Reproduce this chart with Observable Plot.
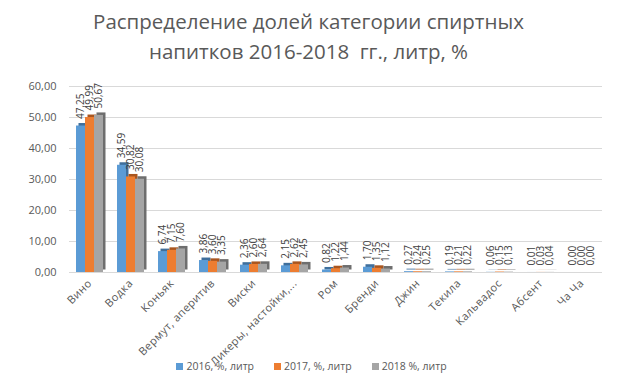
<!DOCTYPE html>
<html><head><meta charset="utf-8">
<script src="https://cdn.jsdelivr.net/npm/d3@7"></script>
<script src="https://cdn.jsdelivr.net/npm/@observablehq/plot@0.6"></script>
<style>
body{margin:0;background:#fff;font-family:"Open Sans",sans-serif;width:617px;height:382px;overflow:hidden;position:relative;}
#title{height:70px;text-align:center;font-size:20.5px;color:#595959;line-height:30px;padding-top:6px;box-sizing:border-box;white-space:nowrap;}
#chart svg{display:block;}
#legend{position:absolute;left:0;top:356px;width:617px;height:20px;display:flex;justify-content:center;align-items:center;gap:20px;font-size:10.5px;color:#595959;padding-left:6px;box-sizing:border-box;}
#legend span.item{display:flex;align-items:center;gap:3px;}
#legend span.sw{width:7px;height:7px;display:inline-block;}
</style></head><body>
<div id="title">Распределение долей категории спиртных<br>напитков 2016-2018&nbsp; гг., литр, %</div>
<div id="chart"></div>
<div id="legend"></div>
<script>
const categories = ["Вино","Водка","Коньяк","Вермут, аперитив","Виски","Ликеры, настойки,...","Ром","Бренди","Джин","Текила","Кальвадос","Абсент","Ча Ча"];
const series = ["2016, %, литр","2017, %, литр","2018 %, литр"];
const v2016 = [47.25,34.59,6.74,3.86,2.36,2.15,0.82,1.70,0.27,0.19,0.06,0.01,0.00];
const v2017 = [49.99,30.82,7.15,3.60,2.60,2.62,1.22,1.35,0.24,0.21,0.15,0.03,0.00];
const v2018 = [50.67,30.08,7.60,3.35,2.64,2.45,1.44,1.12,0.25,0.22,0.13,0.04,0.00];
const yTicks = [0,10,20,30,40,50,60];
const colors = ["#5B9BD5","#ED7D31","#A5A5A5"];
const sideColors = ["#3F6F9C","#A9561F","#6E6E6E"];

const values = [v2016, v2017, v2018];
const rows = [];
categories.forEach((c, i) => series.forEach((s, j) => rows.push({cat: c, series: s, value: values[j][i]})));
const fmt = v => d3.format(".2f")(v).replace(".", ",");

const marks = [];
series.forEach((s, j) => {
  marks.push(Plot.barY(rows, {filter: d => d.series === s, x: "series", y: "value", fill: sideColors[j], dx: 2.5, dy: -2.5}));
});
series.forEach((s, j) => {
  marks.push(Plot.barY(rows, {filter: d => d.series === s, x: "series", y: "value", fill: colors[j]}));
});
marks.push(Plot.text(rows, {x: "series", y: "value", text: d => fmt(d.value), rotate: -90, textAnchor: "start", dy: -7, fontSize: 10, fill: "#404040"}));

const chart = Plot.plot({
  width: 617, height: 286,
  marginLeft: 66, marginRight: 13, marginTop: 16, marginBottom: 84,
  style: {fontFamily: "Open Sans", fontSize: "11px", color: "#595959", background: "transparent", overflow: "visible"},
  facet: {data: rows, x: "cat"},
  fx: {domain: categories, padding: 0, label: null, axis: "bottom", tickRotate: -45, tickSize: 0, tickPadding: 9},
  x: {domain: series, paddingInner: 0, paddingOuter: 0.72, axis: null},
  y: {domain: [0, 60], ticks: yTicks, tickFormat: fmt, grid: true, label: null, tickSize: 0, tickPadding: 13},
  marks
});
document.getElementById("chart").appendChild(chart);
d3.select(chart).selectAll("[aria-label='y-grid'] line, [aria-label='y-grid'] path").attr("stroke", "#D9D9D9").attr("stroke-opacity", 1);
d3.select(chart).selectAll("[aria-label='fx-axis tick label'] text, [aria-label='fx-axis'] text").style("letter-spacing", "0.4px");

const legend = d3.select("#legend");
series.forEach((s, j) => {
  const it = legend.append("span").attr("class", "item");
  it.append("span").attr("class", "sw").style("background", colors[j]);
  it.append("span").text(s);
});
</script>
</body></html>
